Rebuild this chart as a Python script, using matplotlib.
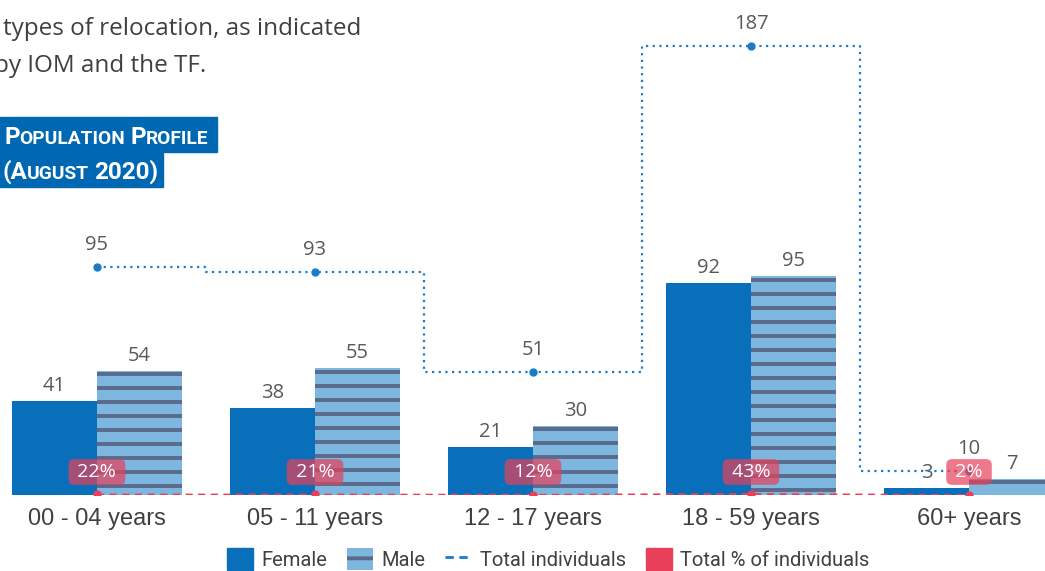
import numpy as np
import matplotlib.pyplot as plt
from matplotlib.patches import Patch, Rectangle
from matplotlib.lines import Line2D

# ---------------------------------------------------------------
# DATA
# ---------------------------------------------------------------
categories = ['00 - 04 years', '05 - 11 years', '12 - 17 years', '18 - 59 years', '60+ years']
female = [41, 38, 21, 92, 3]
male = [54, 55, 30, 95, 7]
totals = [95, 93, 51, 187, 10]
pct = [22, 21, 12, 43, 2]

# ---------------------------------------------------------------
# STYLE
# ---------------------------------------------------------------
W, H = 1045, 571
BLUE = '#0A6FBA'
LIGHT = '#7DB6DE'
STRIPE = '#5A6A8C'
LINE = '#1A7CC8'
RED = '#E8405A'
TITLE_BG = '#0068B3'
TXT = '#404040'
VAL = '#595959'

plt.rcParams['hatch.linewidth'] = 2.8
plt.rcParams['font.family'] = ['Open Sans', 'DejaVu Sans']

fig = plt.figure(figsize=(W / 100, H / 100), dpi=100)
ax = fig.add_axes([0, 76 / H, 1, 495 / H])

x = np.arange(len(categories))
w = 85 / 218

ax.bar(x - w / 2, female, w, color=BLUE, zorder=2)
male_bars = ax.bar(x + w / 2, male, w, color=LIGHT, linewidth=0, zorder=2)

# horizontal stripes inside the male bars
for b in male_bars:
    for yy in np.arange(b.get_height() - 1.5, 0, -6.1):
        ln = ax.axhline(yy, color=STRIPE, lw=2.8, zorder=2.5)
        ln.set_clip_path(b)

ax.set_xlim(-97 / 218, (W - 97) / 218)
ax.set_ylim(0, 215)
for s in ax.spines.values():
    s.set_visible(False)
ax.set_yticks([])
ax.set_xticks(x, categories, fontsize=17, color=TXT, family='Liberation Sans')
ax.tick_params(axis='x', length=0, pad=9)

for i in range(len(x)):
    ax.annotate(str(female[i]), (x[i] - w / 2, female[i]), xytext=(0, 15),
                textcoords='offset pixels', ha='center', va='center',
                fontsize=14.5, color=VAL)
    ax.annotate(str(male[i]), (x[i] + w / 2, male[i]), xytext=(0, 15),
                textcoords='offset pixels', ha='center', va='center',
                fontsize=14.5, color=VAL)

# totals + percentages on a second scale
ax2 = ax.twinx()
ax2.set_ylim(0, 206)
ax2.axis('off')
ax2.step(x, totals, where='mid', color=LINE, ls=(0, (1, 2)), lw=1.6, zorder=3)
ax2.plot(x, totals, 'o', ms=5, color=LINE, zorder=4)
ax2.plot(x, [p / 100 for p in pct], color=RED, ls=(0, (4, 3)), lw=1.3,
         marker='o', ms=5, zorder=4)

for i in range(len(x)):
    ax2.annotate(str(totals[i]), (x[i], totals[i]), xytext=(0, 22),
                 textcoords='offset pixels', ha='center', va='center',
                 fontsize=14.5, color=VAL)
    ax2.annotate(f' {pct[i]}% ', (x[i], 0), xytext=(0, 23),
                 textcoords='offset pixels', ha='center', va='center',
                 fontsize=14, color='white', zorder=5,
                 bbox=dict(boxstyle='round,pad=0.2,rounding_size=0.3',
                           fc=RED, ec='none', alpha=0.7))

# ---------------------------------------------------------------
# TEXT ABOVE THE CHART
# ---------------------------------------------------------------
fig.text(3 / W, 1 - 35 / H, 'types of relocation, as indicated', fontsize=17.5,
         color=TXT, va='baseline')
fig.text(-6 / W, 1 - 72 / H, 'by IOM and the TF.', fontsize=17.5,
         color=TXT, va='baseline')

fig.add_artist(Rectangle((0, 1 - 152 / H), 217 / W, 35 / H,
                         transform=fig.transFigure, color=TITLE_BG, zorder=1))
fig.add_artist(Rectangle((0, 1 - 187 / H), 163 / W, 34 / H,
                         transform=fig.transFigure, color=TITLE_BG, zorder=1))


def small_caps(pieces, x0, y0):
    r = fig.canvas.get_renderer()
    xx = x0
    for s, size in pieces:
        if s is None:
            xx += size
            continue
        t = fig.text(xx / W, 1 - y0 / H, s, fontsize=size, color='white',
                     family='Roboto', weight='bold', va='baseline', zorder=2)
        xx += t.get_window_extent(r).width


BIG, SMALL = 17.5, 13.8
small_caps([('P', BIG), ('OPULATION', SMALL), (None, 5), ('P', BIG),
            ('ROFILE', SMALL)], 4, 144)
small_caps([('(A', BIG), ('UGUST', SMALL), (None, 5), ('2020)', BIG)], 2, 179)

# ---------------------------------------------------------------
# LEGEND
# ---------------------------------------------------------------
handles = [
    Patch(color=BLUE, label='Female'),
    Patch(facecolor=LIGHT, edgecolor=STRIPE, linewidth=0, hatch='-', label='Male'),
    Line2D([], [], color=LINE, ls=(0, (3, 2)), lw=2, label='Total individuals'),
    Patch(color=RED, label='Total % of individuals'),
]
leg = fig.legend(handles=handles, loc='lower center', bbox_to_anchor=(548 / W, -0.03),
                 ncol=4, frameon=False, prop={'family': 'Roboto', 'size': 14.5},
                 handlelength=1.3, handleheight=1.3, handletextpad=0.4,
                 columnspacing=1.0)
for t in leg.get_texts():
    t.set_color(TXT)

plt.savefig('out.png', dpi=100)
